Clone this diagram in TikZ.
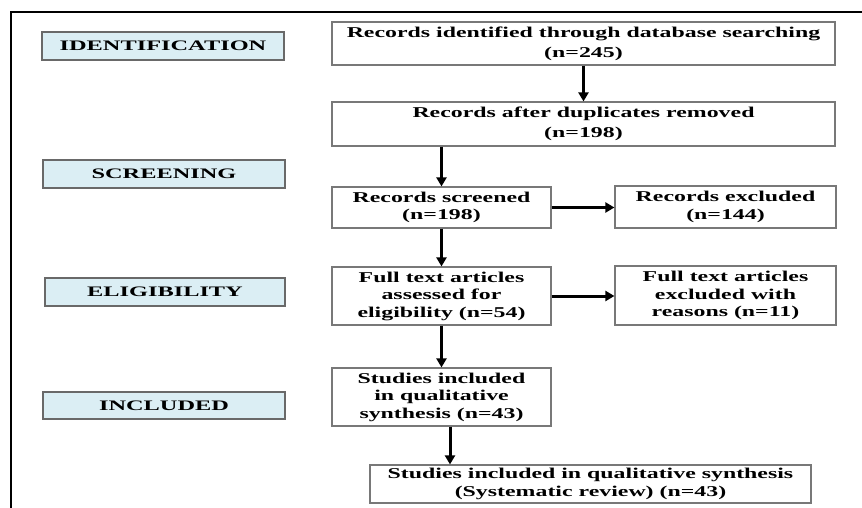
\documentclass[tikz,border=0pt]{standalone}
\usepackage{fontspec}
\setmainfont{Liberation Serif}[FakeStretch=1.59]
\newfontfamily\labfont{Liberation Serif}[FakeStretch=1.68]
\usetikzlibrary{arrows.meta}
\definecolor{stagefill}{RGB}{219,238,244}
\definecolor{stageedge}{RGB}{105,105,105}
\definecolor{boxedge}{RGB}{120,120,120}
\tikzset{
  stagebox/.style={draw=stageedge, fill=stagefill, line width=1.3pt, inner sep=0pt,
    font=\labfont\bfseries\fontsize{14.5}{16}\selectfont},
  flowbox/.style={draw=boxedge, fill=white, line width=1.2pt, inner sep=0pt, align=center,
    font=\bfseries\fontsize{15}{17.5}\selectfont},
  widebox/.style={flowbox, font=\bfseries\fontsize{15}{20}\selectfont},
  arr/.style={line width=3pt, -{Triangle[length=9pt,width=10pt]}},
  frame/.style={line width=2pt}
}
\begin{document}
\begin{tikzpicture}[x=1pt,y=-1pt]
\useasboundingbox (0,0) rectangle (862,508);
% frame
\coordinate (fbl) at (11,508);
\coordinate (ftl) at (11,12);
\coordinate (ftr) at (862,12);
\draw[frame] (fbl) -- (ftl) -- (ftr);
% stage labels
\node[stagebox, minimum width=242pt, minimum height=28pt] (idn) at (163,46) {IDENTIFICATION};
\node[stagebox, minimum width=242pt, minimum height=28pt] (scr) at (164,174) {SCREENING};
\node[stagebox, minimum width=240pt, minimum height=28pt] (elg) at (165,292) {ELIGIBILITY};
\node[stagebox, minimum width=242pt, minimum height=27pt] (inc) at (164,405.5) {INCLUDED};
% flow boxes
\node[widebox, minimum width=503pt, minimum height=43pt] (A) at (583.5,43.5)
  {Records identified through database searching\\(n=245)};
\node[widebox, minimum width=503pt, minimum height=44pt] (B) at (583.5,124)
  {Records after duplicates removed\\(n=198)};
\node[flowbox, minimum width=219pt, minimum height=41pt] (C) at (441.5,207.5)
  {Records screened\\(n=198)};
\node[flowbox, minimum width=221pt, minimum height=42pt] (D) at (725.5,207)
  {Records excluded\\(n=144)};
\node[flowbox, minimum width=219pt, minimum height=58pt] (E) at (441.5,296)
  {Full text articles\\assessed for\\eligibility (n=54)};
\node[flowbox, minimum width=221pt, minimum height=59pt] (F) at (725.5,295.5)
  {Full text articles\\excluded with\\reasons (n=11)};
\node[flowbox, minimum width=219pt, minimum height=58pt] (G) at (441.5,397)
  {Studies included\\in qualitative\\synthesis (n=43)};
\node[flowbox, minimum width=441pt, minimum height=38pt] (H) at (590.5,484)
  {Studies included in qualitative synthesis\\(Systematic review) (n=43)};
% connectors
\draw[arr] (A.south) -- (B.north);
\draw[arr] (C.north |- B.south) -- (C.north);
\draw[arr] (C.east) -- (C.east -| D.west);
\draw[arr] (C.south) -- (E.north);
\draw[arr] (E.east) -- (E.east -| F.west);
\draw[arr] (E.south) -- (G.north);
\draw[arr] ([xshift=8.5pt]G.south) -- ([xshift=8.5pt]G.south |- H.north);
\end{tikzpicture}
\end{document}
